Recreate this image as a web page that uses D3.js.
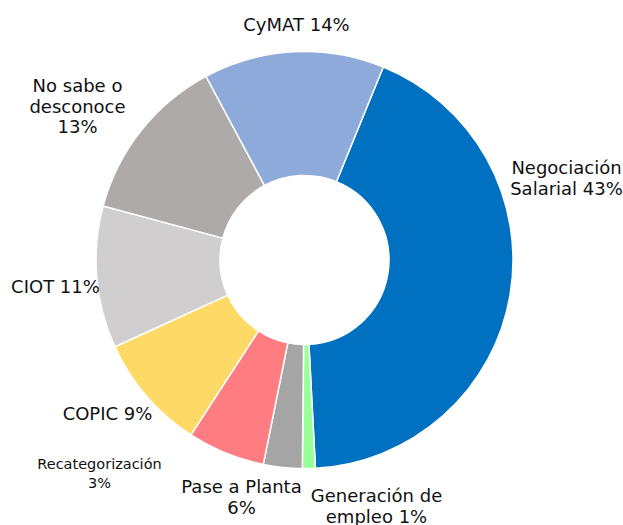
<!DOCTYPE html>
<html>
<head>
<meta charset="utf-8">
<script src="https://cdn.jsdelivr.net/npm/d3@7"></script>
<style>
  body { margin: 0; background: #fff; }
  svg { display: block; font-family: "DejaVu Sans", Verdana, sans-serif; }
</style>
</head>
<body>
<svg id="chart" width="623" height="525"></svg>
<script>
// slices in clockwise order, starting at the right of the top
const categories = ["Negociación Salarial", "Generación de empleo", "Recategorización",
  "Pase a Planta", "COPIC", "CIOT", "No sabe o desconoce", "CyMAT"];
const values = [43, 1, 3, 6, 9, 11, 13, 14];
const colors = ["#0070C0", "#99FF99", "#A5A5A5", "#FF7C80", "#FFD966", "#D0CECE", "#AEAAAA", "#8EAADB"];
const labelLines = [
  ["Negociación", "Salarial 43%"],
  ["Generación de", "empleo 1%"],
  ["Recategorización", "3%"],
  ["Pase a Planta", "6%"],
  ["COPIC 9%"],
  ["CIOT 11%"],
  ["No sabe o", "desconoce", "13%"],
  ["CyMAT 14%"]
];

const svg = d3.select("#chart");
const cx = 304.5, cy = 260;
const outerR = 208.5, innerR = 84.5;
const startDeg = 22.2;

// label anchors (center of first line), relative to the chart centre
const labelAt = [[262, -93], [72, 235], [-205, 204], [-63, 226], [-197, 153], [-249, 26], [-227, -175], [-8, -236]];
const labelSize = [18, 18, 14.5, 18, 18, 18, 18, 18];
const lineGap = [21, 21, 19, 21, 21, 21, 20.5, 21];

const pie = d3.pie()
  .sort(null)
  .value(d => d)
  .startAngle(startDeg * Math.PI / 180)
  .endAngle(startDeg * Math.PI / 180 + 2 * Math.PI);

const arc = d3.arc().innerRadius(innerR).outerRadius(outerR);

const g = svg.append("g").attr("transform", `translate(${cx},${cy})`);

g.selectAll("path.slice")
  .data(pie(values))
  .join("path")
  .attr("class", "slice")
  .attr("d", arc)
  .attr("fill", (d, i) => colors[i])
  .attr("stroke", "#fff")
  .attr("stroke-width", 1.5);

const labels = g.selectAll("text.lbl")
  .data(categories)
  .join("text")
  .attr("class", "lbl")
  .attr("x", (d, i) => labelAt[i][0])
  .attr("y", (d, i) => labelAt[i][1])
  .attr("text-anchor", "middle")
  .attr("dominant-baseline", "central")
  .attr("font-size", (d, i) => labelSize[i])
  .attr("fill", "#111");

labels.each(function(d, i) {
  d3.select(this).selectAll("tspan")
    .data(labelLines[i])
    .join("tspan")
    .attr("x", labelAt[i][0])
    .attr("dy", (t, j) => j === 0 ? 0 : lineGap[i])
    .text(t => t);
});
</script>
</body>
</html>
